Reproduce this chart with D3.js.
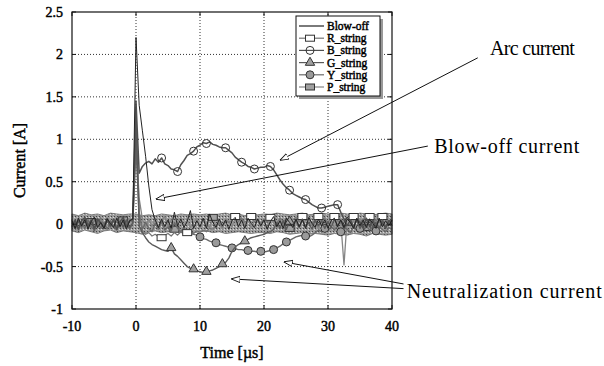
<!DOCTYPE html>
<html>
<head>
<meta charset="utf-8">
<script src="https://cdn.jsdelivr.net/npm/d3@7/dist/d3.min.js"></script>
<style>
  body { margin: 0; background: #fff; }
  text { font-family: "Liberation Serif", serif; }
  .bold { stroke: #000; stroke-width: 0.45; }
</style>
</head>
<body>
<svg id="chart" width="604" height="366"></svg>
<script>
// sampling of the traces: t = -10 ... 40 us every 0.5 us (one row = 5 us)
const tStart = -10, tStep = 0.5;

const blowOff = [
  0.04,-0.05,0.07,-0.02,0.05,-0.06,0.03,0.08,-0.04,0.02,
  -0.05,0.06,0.01,-0.04,0.07,-0.03,0.05,-0.06,0.04,0.06,
  2.2,1.4,1.1,0.8,0.45,0.17,0.05,-0.04,0.06,-0.03,
  0.05,-0.05,0.14,-0.02,0.06,-0.04,0.03,0.16,-0.05,0.04,
  -0.03,0.07,-0.05,0.12,0.02,-0.04,0.06,-0.02,0.05,-0.06,
  0.04,0.08,-0.03,0.05,-0.05,0.07,0.01,-0.04,0.06,-0.02,
  0.05,-0.06,0.03,0.09,-0.03,0.04,-0.05,0.07,0.02,-0.04,
  0.06,-0.03,0.05,-0.05,0.08,0.01,-0.04,0.06,-0.02,0.05,
  -0.05,0.04,0.07,-0.03,0.05,-0.04,0.06,0.02,-0.05,0.07,
  -0.02,0.05,-0.04,0.06,0.01,-0.05,0.07,-0.03,0.04,-0.02,
  0.05];

const rString = [
  0.06,-0.03,0.04,-0.05,0.07,0.01,-0.04,0.05,-0.02,0.08,
  -0.03,0.05,-0.05,0.06,0.02,-0.04,0.07,-0.02,0.04,0.03,
  1.3,0.15,-0.08,-0.12,-0.1,-0.14,-0.12,-0.15,-0.16,-0.13,
  -0.11,-0.14,-0.1,-0.13,-0.09,-0.12,-0.1,-0.13,-0.11,-0.08,
  -0.1,-0.07,-0.09,-0.05,-0.06,-0.02,0.01,-0.03,0.04,0.02,
  0.05,0.09,0.03,0.07,0.02,0.06,0.09,0.03,0.05,0.01,
  0.06,0.02,0.08,0.04,0.01,0.07,0.03,0.06,0.02,0.05,
  0.08,0.03,0.09,0.04,0.06,0.01,0.05,0.09,0.03,0.06,
  0.02,0.07,0.09,0.04,0.01,0.05,0.08,0.03,0.09,0.05,
  0.02,0.06,0.04,0.09,0.03,0.05,0.02,0.09,0.06,0.03,
  0.05];

const bString = [
  -0.03,0.05,-0.06,0.04,0.08,-0.02,0.05,-0.05,0.06,0.01,
  -0.04,0.07,-0.02,0.05,-0.06,0.03,0.08,-0.03,0.04,0.06,
  1.45,0.6,0.68,0.72,0.74,0.71,0.77,0.73,0.78,0.71,
  0.69,0.65,0.64,0.62,0.7,0.75,0.81,0.83,0.86,0.91,
  0.93,0.96,0.95,0.97,0.94,0.93,0.91,0.9,0.9,0.87,
  0.84,0.79,0.76,0.73,0.71,0.68,0.67,0.65,0.66,0.67,
  0.67,0.69,0.68,0.64,0.58,0.52,0.47,0.43,0.4,0.36,
  0.34,0.32,0.3,0.29,0.26,0.23,0.21,0.19,0.19,0.2,
  0.21,0.22,0.23,0.23,0.14,0.06,-0.02,0.05,-0.04,0.06,
  0.02,-0.05,0.07,-0.03,0.05,-0.04,0.06,0.01,-0.05,0.04,
  0.03];

const gString = [
  0.02,-0.06,0.05,-0.03,0.07,-0.04,0.03,-0.07,0.06,0.01,
  -0.05,0.04,-0.02,0.06,-0.06,0.03,-0.03,0.05,-0.04,0.02,
  1.2,-0.02,-0.1,-0.16,-0.21,-0.24,-0.26,-0.28,-0.3,-0.31,
  -0.32,-0.28,-0.35,-0.38,-0.42,-0.46,-0.5,-0.52,-0.53,-0.55,
  -0.56,-0.57,-0.56,-0.55,-0.54,-0.52,-0.5,-0.47,-0.45,-0.4,
  -0.32,-0.27,-0.24,-0.22,-0.2,-0.18,-0.16,-0.15,-0.14,-0.13,
  -0.12,-0.1,-0.09,-0.06,0.02,-0.05,0.04,-0.06,0.03,-0.02,
  0.05,-0.04,0.06,-0.03,0.02,-0.06,0.05,-0.02,0.04,-0.05,
  0.03,-0.04,0.06,-0.02,0.05,-0.06,0.02,0.04,-0.03,0.05,
  -0.05,0.03,-0.02,0.06,-0.04,0.02,-0.06,0.05,-0.03,0.04,
  -0.02];

const yString = [
  -0.04,0.03,-0.07,0.02,-0.05,0.05,-0.03,-0.08,0.03,-0.05,
  0.02,-0.06,0.04,-0.03,-0.07,0.03,-0.04,0.02,-0.06,0.01,
  0.9,0.1,-0.06,0.02,-0.05,-0.09,0.01,-0.06,0.03,-0.07,
  -0.03,-0.08,0.02,-0.05,-0.09,-0.04,-0.1,-0.07,-0.12,-0.13,
  -0.15,-0.17,-0.18,-0.2,-0.21,-0.22,-0.24,-0.25,-0.26,-0.27,
  -0.28,-0.29,-0.3,-0.3,-0.31,-0.31,-0.32,-0.32,-0.33,-0.32,
  -0.33,-0.32,-0.31,-0.3,-0.28,-0.26,-0.23,-0.21,-0.19,-0.17,
  -0.15,-0.14,-0.13,-0.14,-0.15,-0.13,-0.1,-0.07,-0.09,-0.05,
  -0.08,-0.03,-0.07,-0.02,-0.09,-0.04,-0.06,-0.1,-0.03,-0.07,
  -0.05,-0.09,-0.02,-0.07,-0.04,-0.08,-0.03,-0.06,-0.09,-0.04,
  -0.06];

const pString = [
  0.05,-0.04,0.08,-0.02,0.06,-0.05,0.03,0.09,-0.03,0.04,
  -0.06,0.07,0.01,-0.04,0.08,-0.02,0.05,-0.05,0.06,0.02,
  1.0,0.3,0.06,-0.04,0.06,-0.03,0.07,-0.05,0.04,0.09,
  -0.02,0.05,-0.06,0.03,0.08,-0.03,0.06,-0.04,0.02,0.07,
  -0.05,0.05,0.01,-0.04,0.08,-0.02,0.04,-0.06,0.06,0.03,
  -0.03,0.07,-0.04,0.05,-0.02,0.08,-0.05,0.03,0.06,-0.03,
  0.04,-0.06,0.07,0.02,-0.04,0.05,-0.02,0.08,-0.05,0.04,
  0.01,-0.03,0.06,-0.04,0.07,-0.02,0.05,-0.06,0.03,0.08,
  -0.03,0.04,-0.05,0.06,0.02,-0.48,0.07,-0.03,0.05,-0.05,
  0.06,0.02,-0.04,0.07,-0.03,0.05,-0.05,0.03,0.08,-0.02,
  0.04];

// edges of the grey noise band that all strings share, every 1 us from -10 to 40
const bandUpper = [
  0.12,0.1,0.13,0.11,0.12,0.1,0.13,0.12,0.11,0.12,
  0.12,0.1,0.11,0.1,0.12,0.11,0.1,0.12,0.11,0.12,
  0.11,0.12,0.1,0.12,0.13,0.11,0.12,0.1,0.12,0.11,
  0.12,0.11,0.13,0.12,0.11,0.12,0.13,0.11,0.12,0.13,
  0.12,0.11,0.13,0.12,0.11,0.13,0.12,0.11,0.12,0.13,
  0.12];
const bandLower = [
  -0.08,-0.1,-0.07,-0.09,-0.11,-0.08,-0.07,-0.1,-0.08,-0.09,
  -0.1,-0.12,-0.09,-0.08,-0.1,-0.09,-0.08,-0.1,-0.09,-0.1,
  -0.09,-0.08,-0.1,-0.09,-0.11,-0.1,-0.09,-0.1,-0.11,-0.1,
  -0.1,-0.11,-0.09,-0.1,-0.12,-0.11,-0.1,-0.12,-0.11,-0.12,
  -0.13,-0.11,-0.12,-0.13,-0.11,-0.12,-0.14,-0.11,-0.12,-0.13,
  -0.12];
const bandStep = 1;

// times (us) where a marker sits on each trace
const rMarks = [4, 8, 15.5, 18, 21, 26, 28.5, 31, 34, 36.5, 38.5];
const bMarks = [4, 6.5, 9, 11, 14, 16.5, 18.5, 21, 24, 26.5, 29, 31.5];
const gMarks = [5.5, 9, 11, 13.5, 17, 24, 33];
const yMarks = [10, 12.5, 15, 17.5, 19.5, 21.5, 23.5, 26.5, 29.5, 32, 35, 37.5];
const pMarks = [-7, -2, 6, 12, 24, 36];

const xTicks = [-10, 0, 10, 20, 30, 40];
const yTicks = [-1, -0.5, 0, 0.5, 1, 1.5, 2, 2.5];
const seriesNames = ["Blow-off", "R_string", "B_string", "G_string", "Y_string", "P_string"];

const svg = d3.select("#chart");
const x = d3.scaleLinear().domain([-10, 40]).range([72, 392]);
const y = d3.scaleLinear().domain([-1, 2.5]).range([309, 12]);

// grid
svg.append("g").selectAll("line").data(xTicks.slice(1, -1)).join("line")
  .attr("x1", d => x(d)).attr("x2", d => x(d)).attr("y1", y(-1)).attr("y2", y(2.5))
  .attr("stroke", "#333").attr("stroke-width", 1).attr("stroke-dasharray", "1,2");
svg.append("g").selectAll("line").data(yTicks.slice(1, -1)).join("line")
  .attr("y1", d => y(d)).attr("y2", d => y(d)).attr("x1", x(-10)).attr("x2", x(40))
  .attr("stroke", "#333").attr("stroke-width", 1).attr("stroke-dasharray", "1,2");

// noise band
const defs = svg.append("defs");
const pat = defs.append("pattern").attr("id", "grain").attr("width", 3).attr("height", 3)
  .attr("patternUnits", "userSpaceOnUse");
pat.append("rect").attr("width", 3).attr("height", 3).attr("fill", "#9c9c9c");
pat.append("rect").attr("x", 0).attr("y", 0).attr("width", 1).attr("height", 1).attr("fill", "#444");
pat.append("rect").attr("x", 2).attr("y", 1).attr("width", 1).attr("height", 1).attr("fill", "#d8d8d8");

const band = d3.area()
  .x((d, i) => x(tStart + i * bandStep))
  .y0((d, i) => y(bandLower[i]))
  .y1(d => y(d));
svg.append("path").attr("d", band(bandUpper)).attr("fill", "url(#grain)")
  .attr("stroke", "#666").attr("stroke-width", 0.8);

// traces
const tOf = i => tStart + i * tStep;
const line = d3.line().x((d, i) => x(tOf(i))).y(d => y(d));
const valAt = (arr, t) => arr[Math.round((t - tStart) / tStep)];

const series = [
  { name: "P_string", data: pString, color: "#858585", w: 1.3, marks: pMarks, shape: "fsquare" },
  { name: "Y_string", data: yString, color: "#6a6a6a", w: 1.4, marks: yMarks, shape: "fcircle" },
  { name: "R_string", data: rString, color: "#737373", w: 1.2, marks: rMarks, shape: "square" },
  { name: "G_string", data: gString, color: "#5a5a5a", w: 1.4, marks: gMarks, shape: "triangle" },
  { name: "B_string", data: bString, color: "#505050", w: 1.5, marks: bMarks, shape: "circle" },
  { name: "Blow-off", data: blowOff, color: "#222", w: 1, marks: [], shape: "none" }
];

function drawMarker(g, shape, cx, cy) {
  if (shape === "circle" || shape === "fcircle") {
    g.append("circle").attr("cx", cx).attr("cy", cy).attr("r", 4)
      .attr("fill", shape === "circle" ? "none" : "#9a9a9a")
      .attr("stroke", "#333").attr("stroke-width", 1);
  } else if (shape === "square" || shape === "fsquare") {
    g.append("rect").attr("x", cx - 4.5).attr("y", cy - 3).attr("width", 9).attr("height", 6)
      .attr("fill", shape === "square" ? "#fff" : "#a0a0a0")
      .attr("stroke", "#333").attr("stroke-width", 1);
  } else if (shape === "triangle") {
    g.append("path").attr("transform", `translate(${cx},${cy})`)
      .attr("d", d3.symbol(d3.symbolTriangle, 38)())
      .attr("fill", "#a0a0a0").attr("stroke", "#333").attr("stroke-width", 1);
  }
}

const traces = svg.append("g");
series.forEach(s => {
  traces.append("path").attr("d", line(s.data)).attr("fill", "none")
    .attr("stroke", s.color).attr("stroke-width", s.w).attr("stroke-linejoin", "round");
  const mg = traces.append("g");
  s.marks.forEach(t => drawMarker(mg, s.shape, x(t), y(valAt(s.data, t))));
});

// frame + inward ticks
svg.append("rect").attr("x", x(-10)).attr("y", y(2.5)).attr("width", x(40) - x(-10)).attr("height", y(-1) - y(2.5))
  .attr("fill", "none").attr("stroke", "#111").attr("stroke-width", 1.2);
const tk = svg.append("g").attr("stroke", "#111").attr("stroke-width", 1);
yTicks.forEach(v => {
  tk.append("line").attr("x1", x(-10)).attr("x2", x(-10) + 4).attr("y1", y(v)).attr("y2", y(v));
  tk.append("line").attr("x1", x(40)).attr("x2", x(40) - 4).attr("y1", y(v)).attr("y2", y(v));
});
xTicks.forEach(v => {
  tk.append("line").attr("x1", x(v)).attr("x2", x(v)).attr("y1", y(-1)).attr("y2", y(-1) - 4);
  tk.append("line").attr("x1", x(v)).attr("x2", x(v)).attr("y1", y(2.5)).attr("y2", y(2.5) + 4);
});

// tick labels
svg.append("g").selectAll("text").data(yTicks).join("text").attr("class", "bold")
  .attr("x", x(-10) - 9).attr("y", d => y(d) + 5).attr("text-anchor", "end")
  .attr("font-size", 14).text(d => d);
svg.append("g").selectAll("text").data(xTicks).join("text").attr("class", "bold")
  .attr("x", d => x(d)).attr("y", y(-1) + 22).attr("text-anchor", "middle")
  .attr("font-size", 14).text(d => d);

svg.append("text").attr("class", "bold").attr("x", x(15)).attr("y", 358).attr("text-anchor", "middle")
  .attr("font-size", 16).text("Time [\u00b5s]");
svg.append("text").attr("class", "bold").attr("transform", `translate(25,${y(0.75)}) rotate(-90)`)
  .attr("text-anchor", "middle").attr("font-size", 16).text("Current [A]");

// legend
const lg = svg.append("g");
lg.append("rect").attr("x", 299).attr("y", 19).attr("width", 84).attr("height", 80).attr("fill", "#999");
lg.append("rect").attr("x", 296).attr("y", 16).attr("width", 84).attr("height", 80)
  .attr("fill", "#fff").attr("stroke", "#111").attr("stroke-width", 1);
const shapeOf = {}, colorOf = {};
series.forEach(s => { shapeOf[s.name] = s.shape; colorOf[s.name] = s.color; });
seriesNames.forEach((n, i) => {
  const ly = 26 + i * 12.2;
  lg.append("line").attr("x1", 299).attr("x2", 324).attr("y1", ly).attr("y2", ly)
    .attr("stroke", colorOf[n]).attr("stroke-width", 1.2);
  drawMarker(lg, shapeOf[n], 310, ly);
  lg.append("text").attr("class", "bold").attr("x", 327).attr("y", ly + 4)
    .attr("font-size", 11.5).text(n);
});

// annotations
defs.append("marker").attr("id", "ah").attr("viewBox", "0 0 10 10").attr("refX", 9).attr("refY", 5)
  .attr("markerWidth", 9).attr("markerHeight", 9).attr("orient", "auto-start-reverse")
  .attr("markerUnits", "userSpaceOnUse")
  .append("path").attr("d", "M0,1.5 L10,5 L0,8.5 Z").attr("fill", "#fff").attr("stroke", "#111").attr("stroke-width", 1);

const arrows = [
  { from: [53.4, 1.96], to: [22.6, 0.756] },
  { from: [45.6, 0.92], to: [3.2, 0.296] },
  { from: [41.8, -0.705], to: [23.2, -0.446] },
  { from: [41.8, -0.76], to: [15.0, -0.646] }
];
svg.append("g").selectAll("line").data(arrows).join("line")
  .attr("x1", d => x(d.from[0])).attr("y1", d => y(d.from[1]))
  .attr("x2", d => x(d.to[0])).attr("y2", d => y(d.to[1]))
  .attr("stroke", "#111").attr("stroke-width", 1).attr("marker-end", "url(#ah)");

const labels = [
  { t: 55.3, v: 1.99, text: "Arc current", w: 85 },
  { t: 46.6, v: 0.84, text: "Blow-off current", w: 145 },
  { t: 42.3, v: -0.87, text: "Neutralization current", w: 195 }
];
svg.append("g").selectAll("text").data(labels).join("text")
  .attr("x", d => x(d.t)).attr("y", d => y(d.v)).attr("font-size", 20)
  .attr("textLength", d => d.w).attr("lengthAdjust", "spacing").text(d => d.text);
</script>
</body>
</html>
